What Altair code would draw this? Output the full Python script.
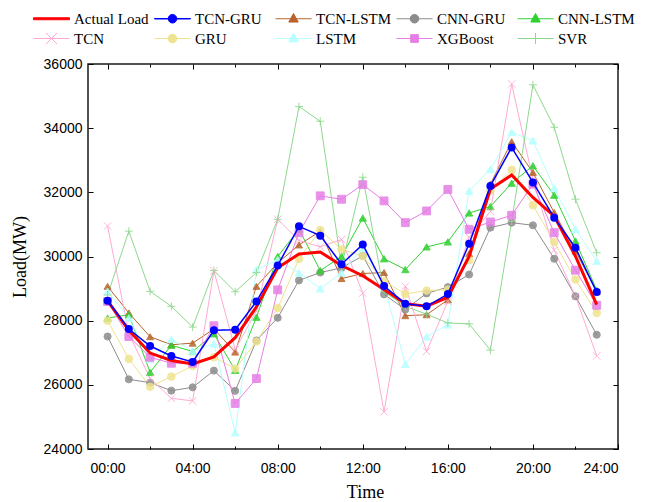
import altair as alt
import pandas as pd

hours = list(range(24))
series_names = ["Actual Load", "TCN-GRU", "TCN-LSTM", "CNN-GRU", "CNN-LSTM",
                "TCN", "GRU", "LSTM", "XGBoost", "SVR"]

actual_load = [28620, 27700, 26990, 26760, 26650, 26870, 27470, 28430, 29650, 30080, 30140, 29720,
               29400, 28970, 28530, 28450, 28730, 30000, 32100, 32540, 31840, 31260, 30010, 28500]
tcn_gru = [28620, 27740, 27210, 26900, 26715, 27700, 27720, 28600, 29720, 30940, 30650, 29760,
           30376, 29080, 28530, 28447, 28830, 30400, 32200, 33400, 32310, 31210, 30270, 28890]
tcn_lstm = [29070, 28240, 27500, 27250, 27300, 27740, 27020, 29070, 29800, 30360, 30790, 29312,
            29470, 29500, 28155, 28185, 28650, 30090, 32255, 33580, 32620, 31370, 30170, 28900]
cnn_gru = [27507, 26172, 26068, 25818, 25922, 26443, 25812, 27384, 28090, 29255, 29500, 29645,
           30020, 28820, 28350, 28850, 29045, 29437, 30900, 31055, 30972, 29929, 28760, 27561]
cnn_lstm = [28081, 28185, 26391, 27236, 27038, 27591, 26453, 28108, 30000, 30850, 29560, 30000,
            31200, 29930, 29594, 30300, 30455, 31357, 31556, 32286, 32828, 31911, 30482, 28948]
tcn = [30950, 27600, 26200, 25580, 25500, 29550, 27100, 28300, 31160, 30500, 30300, 30530,
       28860, 25160, 29070, 27040, 28600, 30600, 31400, 35380, 32400, 30200, 28760, 26900]
gru = [28000, 26810, 25943, 26256, 26590, 26860, 26505, 27350, 28394, 29927, 30824, 30220,
       30011, 29229, 28833, 28937, 28968, 29887, 32046, 32703, 31598, 30450, 29282, 28239]
lstm = [28915, 28081, 26800, 27424, 27050, 27278, 24510, 29590, 29900, 29490, 29000, 29490,
        30271, 29100, 26640, 27500, 27873, 32046, 32724, 33871, 33610, 32130, 30847, 29856]
xgboost = [28600, 27507, 26860, 26673, 26673, 27841, 25419, 26195, 28960, 30742, 31890, 31785,
           32240, 31733, 31055, 31420, 32090, 30846, 31076, 31285, 32255, 30742, 29574, 28479]
svr = [28800, 30790, 28915, 28446, 27799, 29562, 28900, 29500, 31160, 34674, 34216, 29700,
       32470, 28900, 28450, 28200, 27930, 27900, 27080, 31100, 35350, 34028, 31785, 30117]

series_values = [actual_load, tcn_gru, tcn_lstm, cnn_gru, cnn_lstm, tcn, gru, lstm, xgboost, svr]

colors = ["#ff0000", "#0000ff", "#b8632b", "#8c8c8c", "#2fd12f",
          "#ffaad4", "#efe38f", "#b5ffff", "#e57ee5", "#8ed88e"]

x_major = [0, 4, 8, 12, 16, 20, 24]
x_minor = [2, 6, 10, 14, 18, 22]
y_ticks = [24000, 26000, 28000, 30000, 32000, 34000, 36000]

rows = []
for name, vals in zip(series_names, series_values):
    for h, v in zip(hours, vals):
        rows.append({"hour": h, "series": name, "value": v})
df = pd.DataFrame(rows)

W, H = 530, 385
x_scale = alt.Scale(domain=[-0.92, 24], nice=False, zero=False)
y_scale = alt.Scale(domain=[24000, 36000], nice=False, zero=False)

others = [s for s in series_names if s not in ("Actual Load", "TCN-GRU")]
other_colors = [colors[series_names.index(s)] for s in others]

# point shapes
X_PATH = "M-1,-1L1,1M-1,1L1,-1"
PLUS_PATH = "M-1,0L1,0M0,-1L0,1"
pt_shapes = {"TCN-LSTM": "triangle-up", "CNN-GRU": "circle", "CNN-LSTM": "triangle-up",
             "TCN": X_PATH, "GRU": "circle", "LSTM": "triangle-up", "XGBoost": "square",
             "SVR": PLUS_PATH}
pt_sizes = {"TCN-LSTM": 48, "CNN-GRU": 64, "CNN-LSTM": 48, "TCN": 110, "GRU": 64,
            "LSTM": 48, "XGBoost": 56, "SVR": 110}

# legend symbol paths (unit scale k = 11 px): a line segment plus the marker
LN = "M-1.636,0H1.636"
CIRC = "M0.39,0A0.39,0.39,0,1,1,-0.39,0A0.39,0.39,0,1,1,0.39,0Z"
TRI = "M0,-0.48L0.43,0.3L-0.43,0.3Z"
leg_paths = {
    "Actual Load": "M-1.636,-0.09H1.636V0.09H-1.636Z",
    "TCN-GRU": "M-1.636,-0.023H1.636V0.023H-1.636Z" + CIRC,
    "TCN-LSTM": LN + TRI,
    "CNN-GRU": LN + CIRC,
    "CNN-LSTM": LN + TRI,
    "TCN": LN + "M-0.5,-0.5L0.5,0.5M-0.5,0.5L0.5,-0.5",
    "GRU": LN + CIRC,
    "LSTM": LN + TRI,
    "XGBoost": LN + "M-0.35,-0.35H0.35V0.35H-0.35Z",
    "SVR": LN + "M0,-0.5V0.5M-0.5,0H0.5",
}


def make_legend():
    return alt.Legend(
        orient="none", direction="horizontal", legendX=-48, legendY=-57, columns=5,
        gridAlign="all", columnPadding=1, rowPadding=0, symbolSize=484, labelOffset=11,
        symbolStrokeWidth=1, symbolOpacity=1,
        labelFont="Liberation Serif", labelFontSize=15, labelColor="black",
        title=None, padding=0, labelLimit=200,
    )


def tick_axis(orient, vals, size, offset):
    return alt.Axis(orient=orient, values=vals, labels=False, ticks=True, tickSize=size,
                    tickColor="black", tickWidth=1, domain=False, grid=False,
                    title=None, offset=offset)


x_label_axis = alt.Axis(
    orient="bottom", values=x_major,
    labelExpr="(datum.value < 10 ? '0' : '') + datum.value + ':00'",
    ticks=False, domain=False, grid=False, labelFont="Liberation Sans", labelFontSize=14,
    labelColor="black", labelPadding=12, labelOverlap=False,
    title="Time", titleFont="Liberation Serif", titleFontSize=18, titleFontWeight="normal",
    titleColor="black", titlePadding=8, titleX=277,
)
y_label_axis = alt.Axis(
    orient="left", values=y_ticks, format="d", ticks=False, domain=False, grid=False,
    labelFont="Liberation Sans", labelFontSize=14, labelColor="black", labelPadding=6,
    title="Load(MW)", titleFont="Liberation Serif", titleFontSize=18,
    titleFontWeight="normal", titleColor="black", titlePadding=14,
)

base = alt.Chart(df)

lines_other = base.transform_filter(
    alt.FieldOneOfPredicate(field="series", oneOf=others)
).mark_line(strokeWidth=1).encode(
    x=alt.X("hour:Q", scale=x_scale, axis=x_label_axis),
    y=alt.Y("value:Q", scale=y_scale, axis=y_label_axis),
    color=alt.Color("series:N", scale=alt.Scale(domain=others, range=other_colors), legend=None),
)

points_other = base.transform_filter(
    alt.FieldOneOfPredicate(field="series", oneOf=others)
).mark_point(filled=True, opacity=0.85, strokeWidth=1).encode(
    x=alt.X("hour:Q", scale=x_scale, axis=tick_axis("top", x_major, 5, -H)),
    y=alt.Y("value:Q", scale=y_scale, axis=tick_axis("right", y_ticks, 5, -W)),
    color=alt.Color("series:N", scale=alt.Scale(domain=others, range=other_colors), legend=None),
    stroke=alt.Stroke("series:N", scale=alt.Scale(domain=others, range=other_colors), legend=None),
    shape=alt.Shape("series:N", scale=alt.Scale(domain=others, range=[pt_shapes[s] for s in others]), legend=None),
    size=alt.Size("series:N", scale=alt.Scale(domain=others, range=[pt_sizes[s] for s in others]), legend=None),
)

red_line = base.transform_filter(
    alt.FieldEqualPredicate(field="series", equal="Actual Load")
).mark_line(strokeWidth=3, color="#ff0000").encode(
    x=alt.X("hour:Q", scale=x_scale, axis=tick_axis("bottom", x_major, 5, -H)),
    y=alt.Y("value:Q", scale=y_scale, axis=tick_axis("left", y_ticks, 5, -W)),
)

blue_line = base.transform_filter(
    alt.FieldEqualPredicate(field="series", equal="TCN-GRU")
).mark_line(strokeWidth=1.5, color="#0000ff").encode(
    x=alt.X("hour:Q", scale=x_scale, axis=tick_axis("top", x_minor, 3, -H)),
    y=alt.Y("value:Q", scale=y_scale, axis=None),
)

blue_points = base.transform_filter(
    alt.FieldEqualPredicate(field="series", equal="TCN-GRU")
).mark_point(filled=True, color="#0000ff", size=64, shape="circle", opacity=1).encode(
    x=alt.X("hour:Q", scale=x_scale, axis=tick_axis("bottom", x_minor, 3, -H)),
    y=alt.Y("value:Q", scale=y_scale, axis=None),
)

legend_layer = base.mark_point(filled=True, opacity=0).encode(
    x=alt.X("hour:Q", scale=x_scale, axis=None),
    y=alt.Y("value:Q", scale=y_scale, axis=None),
    color=alt.Color("series:N", scale=alt.Scale(domain=series_names, range=colors), legend=make_legend()),
    stroke=alt.Stroke("series:N", scale=alt.Scale(domain=series_names, range=colors), legend=make_legend()),
    shape=alt.Shape("series:N", scale=alt.Scale(domain=series_names, range=[leg_paths[s] for s in series_names]), legend=make_legend()),
)

chart = alt.layer(
    lines_other, points_other, red_line, blue_line, blue_points, legend_layer
).resolve_scale(
    color="independent", shape="independent", size="independent", stroke="independent"
).resolve_axis(
    x="independent", y="independent"
).properties(
    width=W, height=H,
    padding={"left": 88, "top": 64, "right": 30, "bottom": 53},
    autosize=alt.AutoSizeParams(type="none"),
    background="white",
).configure_view(
    stroke="#1a1a1a", strokeWidth=1.5
)

chart.save("out.html", embed_options={"renderer": "svg", "actions": False})
